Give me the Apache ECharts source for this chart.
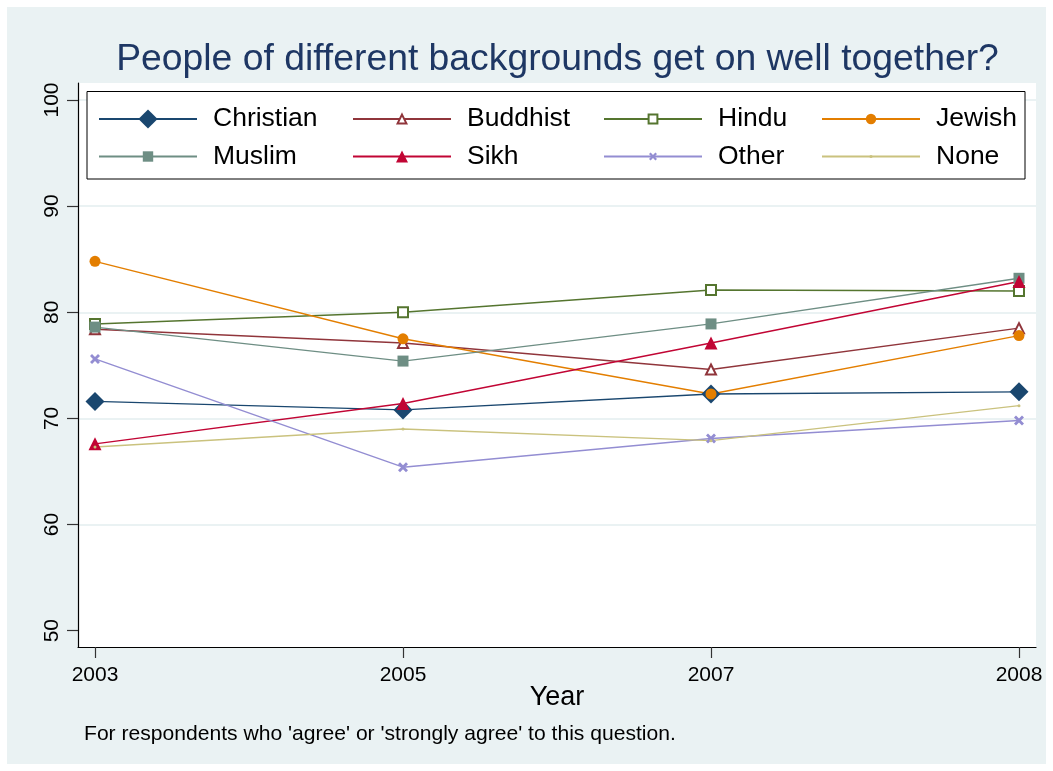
<!DOCTYPE html>
<html><head><meta charset="utf-8">
<script src="https://cdn.jsdelivr.net/npm/echarts@6/dist/echarts.min.js"></script>
<style>
html,body{margin:0;padding:0;background:#fff;}
#bg{position:absolute;left:7px;top:7px;width:1039px;height:757px;background:#eaf2f3;}
#chart{position:absolute;left:0;top:0;width:1053px;height:771px;}
</style></head>
<body><div id="bg"></div><div id="chart"></div>
<script>
// ---- data ----
const years = ['2003', '2005', '2007', '2008'];
const christian = [71.6, 70.8, 72.3, 72.5];
const buddhist  = [78.4, 77.1, 74.6, 78.5];
const hindu     = [78.9, 80.0, 82.1, 82.0];
const jewish    = [84.8, 77.5, 72.3, 77.8];
const muslim    = [78.6, 75.4, 78.9, 83.2];
const sikh      = [67.6, 71.4, 77.1, 82.9];
const other     = [75.6, 65.4, 68.1, 69.8];
const none      = [67.3, 69.0, 67.9, 71.2];
const yTicks = [50, 60, 70, 80, 90, 100];
const xTicks = [0, 1, 2, 3];

const FONT = '"Liberation Sans", Arial, Helvetica, sans-serif';
const crossPath = 'path://M2,0 L5,3 L8,0 L10,2 L7,5 L10,8 L8,10 L5,7 L2,10 L0,8 L3,5 L0,2 Z';

const seriesDefs = [
  {name: 'Christian', values: christian, color: '#1a476f', symbol: 'diamond', size: 19, bw: 0, legH: 24, lx: 98,  row: 0},
  {name: 'Buddhist',  values: buddhist,  color: '#90353b', symbol: 'emptyTriangle', size: 10, bw: 2.5, legH: 11, lx: 352, row: 0},
  {name: 'Hindu',     values: hindu,     color: '#55752f', symbol: 'emptyRect', size: 10, bw: 2.5, legH: 11, lx: 603, row: 0},
  {name: 'Jewish',    values: jewish,    color: '#e37e00', symbol: 'circle', size: 11, bw: 0, legH: 13, lx: 821, row: 0},
  {name: 'Muslim',    values: muslim,    color: '#6e8e84', symbol: 'rect', size: 11, bw: 0, legH: 13, lx: 98,  row: 1},
  {name: 'Sikh',      values: sikh,      color: '#c10534', symbol: 'triangle', size: 13, bw: 0, legH: 15, lx: 352, row: 1},
  {name: 'Other',     values: other,     color: '#938dd2', symbol: crossPath, size: 10, bw: 0, legH: 10, lx: 603, row: 1},
  {name: 'None',      values: none,      color: '#cac27e', symbol: 'circle', size: 3, bw: 0, legH: 4, lx: 821, row: 1}
];
const rowCenters = [119.5, 157];

const chart = echarts.init(document.getElementById('chart'), null, {renderer: 'canvas'});

const series = seriesDefs.map(d => ({
  name: d.name,
  type: 'line',
  data: d.values.map((v, i) => [i, v]),
  symbol: d.symbol,
  symbolSize: d.size,
  showSymbol: true,
  lineStyle: {color: d.color, width: 1.4},
  itemStyle: {color: d.color, borderColor: d.color, borderWidth: d.bw},
  emphasis: {disabled: true},
  silent: true,
  animation: false
}));

const legends = seriesDefs.map(d => ({
  data: [d.name],
  orient: 'horizontal',
  left: d.lx,
  top: rowCenters[d.row] - 14,
  padding: 0,
  itemWidth: 98,
  itemHeight: d.legH,
  selectedMode: false,
  z: 10,
  textStyle: {fontFamily: FONT, fontSize: 26.5, color: '#000', padding: [0, 0, 0, 11]}
}));

const option = {
  animation: false,
  title: [
    {text: 'People of different backgrounds get on well together?', left: 557.5, textAlign: 'center', top: 41,
     padding: 0,
     textStyle: {fontFamily: FONT, fontSize: 37.3, fontWeight: 'normal', color: '#1e3764'}},
    {text: "For respondents who 'agree' or 'strongly agree' to this question.", left: 84, top: 724,
     padding: 0,
     textStyle: {fontFamily: FONT, fontSize: 21.1, fontWeight: 'normal', color: '#000'}}
  ],
  grid: {left: 78, top: 83, right: 17, bottom: 124, show: true, backgroundColor: '#fff', borderWidth: 0},
  xAxis: {
    type: 'value', min: -0.0552, max: 3.0552,
    name: 'Year', nameLocation: 'middle', nameGap: 37, nameMoveOverlap: false,
    nameTextStyle: {fontFamily: FONT, fontSize: 27, color: '#000'},
    axisLine: {show: true, onZero: false, lineStyle: {color: '#000', width: 1.2}},
    axisTick: {show: true, length: 11, customValues: xTicks, lineStyle: {color: '#333', width: 1.2}},
    axisLabel: {customValues: xTicks, formatter: v => years[Math.round(v)], margin: 18,
      fontFamily: FONT, fontSize: 21, color: '#000'},
    splitLine: {show: false}
  },
  yAxis: {
    type: 'value', min: 48.46, max: 101.6,
    axisLine: {show: true, onZero: false, lineStyle: {color: '#000', width: 1.2}},
    axisTick: {show: true, length: 11, customValues: yTicks, lineStyle: {color: '#333', width: 1.2}},
    axisLabel: {customValues: yTicks, rotate: 90, margin: 15, fontFamily: FONT, fontSize: 21, color: '#000'},
    splitLine: {show: true, lineStyle: {color: ['rgba(0,0,0,0)', '#eaf2f3', '#eaf2f3', '#eaf2f3', '#eaf2f3', '#eaf2f3'], width: 2}}
  },
  legend: legends,
  graphic: [
    {type: 'rect', z: 5, shape: {x: 87, y: 91.5, width: 938, height: 87.5},
     style: {fill: '#fff', stroke: '#000', lineWidth: 1}}
  ],
  series: series
};
chart.setOption(option);
</script>
</body></html>
